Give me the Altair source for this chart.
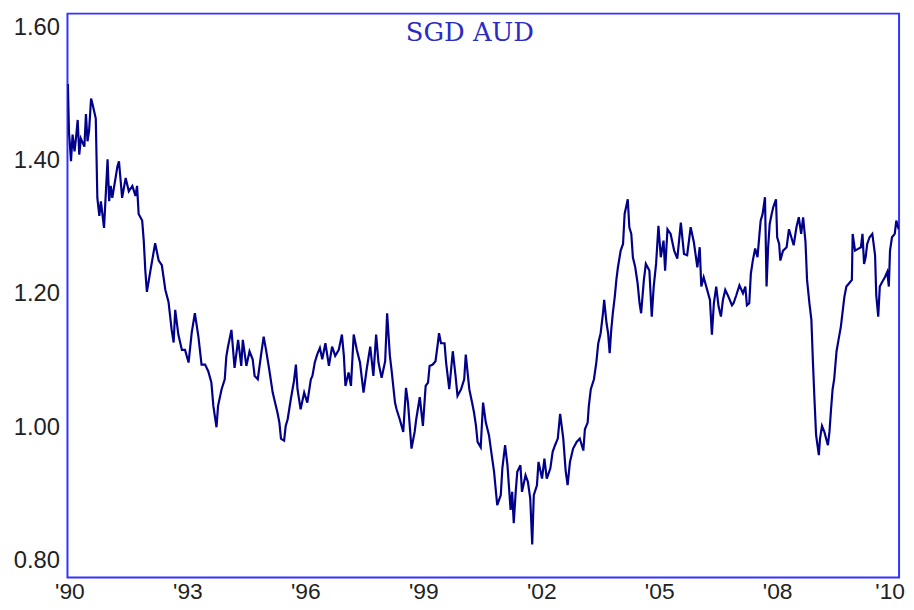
import altair as alt
import pandas as pd

title_text = "SGD AUD"
x_ticks = [1990, 1993, 1996, 1999, 2002, 2005, 2008, 2010.86]
y_ticks = [0.80, 1.00, 1.20, 1.40, 1.60]

years_a = [1989.96, 1989.99, 1990.00, 1990.04, 1990.08, 1990.13, 1990.17, 1990.21, 1990.25, 1990.29,
           1990.38, 1990.42, 1990.46, 1990.50, 1990.55, 1990.59, 1990.67, 1990.71, 1990.76, 1990.80,
           1990.88, 1990.97, 1991.01, 1991.05, 1991.09, 1991.22, 1991.26, 1991.34, 1991.43, 1991.51,
           1991.60, 1991.68, 1991.72, 1991.76, 1991.85, 1991.89, 1991.93, 1991.97, 1992.06, 1992.18,
           1992.27, 1992.35, 1992.44, 1992.52, 1992.60, 1992.65, 1992.69, 1992.77, 1992.86, 1992.94,
           1993.03, 1993.11, 1993.19, 1993.28, 1993.36, 1993.45, 1993.53, 1993.61, 1993.66, 1993.74,
           1993.78, 1993.87, 1993.95, 1993.99]
rates_a = [1.515, 1.440, 1.434, 1.399, 1.439, 1.414, 1.436, 1.461, 1.409, 1.433,
           1.421, 1.470, 1.429, 1.445, 1.493, 1.484, 1.463, 1.344, 1.317, 1.339,
           1.299, 1.402, 1.339, 1.362, 1.344, 1.391, 1.399, 1.344, 1.374, 1.354,
           1.362, 1.347, 1.362, 1.320, 1.310, 1.280, 1.235, 1.203, 1.235, 1.276,
           1.250, 1.243, 1.206, 1.188, 1.146, 1.127, 1.176, 1.139, 1.116, 1.116,
           1.097, 1.142, 1.171, 1.136, 1.094, 1.094, 1.084, 1.067, 1.032, 1.000,
           1.032, 1.057, 1.072, 1.106]

years_b = [1994.03, 1994.12, 1994.20, 1994.29, 1994.37, 1994.41, 1994.50, 1994.58, 1994.66, 1994.71,
           1994.79, 1994.87, 1994.94, 1995.00, 1995.08, 1995.17, 1995.21, 1995.29, 1995.34, 1995.38,
           1995.46, 1995.50, 1995.55, 1995.63, 1995.71, 1995.76, 1995.80, 1995.88, 1995.97, 1996.05,
           1996.14, 1996.18, 1996.24, 1996.30, 1996.37, 1996.43, 1996.51, 1996.60, 1996.68, 1996.76,
           1996.85, 1996.93, 1996.98, 1997.02, 1997.10, 1997.16, 1997.23, 1997.31, 1997.39, 1997.48,
           1997.56, 1997.65, 1997.73, 1997.80, 1997.86, 1997.94, 1998.03, 1998.08, 1998.15, 1998.19,
           1998.28]
rates_b = [1.120, 1.146, 1.089, 1.131, 1.092, 1.131, 1.092, 1.114, 1.102, 1.077,
           1.072, 1.107, 1.136, 1.116, 1.087, 1.052, 1.042, 1.022, 1.007, 0.983,
           0.980, 1.002, 1.012, 1.042, 1.069, 1.094, 1.057, 1.027, 1.052, 1.037,
           1.072, 1.077, 1.097, 1.109, 1.119, 1.102, 1.126, 1.092, 1.121, 1.107,
           1.116, 1.139, 1.107, 1.062, 1.082, 1.062, 1.139, 1.116, 1.097, 1.052,
           1.087, 1.121, 1.077, 1.139, 1.097, 1.074, 1.099, 1.171, 1.107, 1.087,
           1.037]

years_c = [1998.32, 1998.40, 1998.49, 1998.56, 1998.61, 1998.70, 1998.78, 1998.82, 1998.91, 1998.99,
           1999.06, 1999.12, 1999.16, 1999.24, 1999.31, 1999.37, 1999.40, 1999.45, 1999.54, 1999.58,
           1999.66, 1999.75, 1999.82, 1999.87, 1999.96, 2000.04, 2000.08, 2000.17, 2000.24, 2000.29,
           2000.34, 2000.38, 2000.46, 2000.52, 2000.59, 2000.67, 2000.74, 2000.80, 2000.84, 2000.88,
           2000.97, 2001.01, 2001.08, 2001.14, 2001.22, 2001.26, 2001.30, 2001.35, 2001.39, 2001.47,
           2001.51, 2001.60, 2001.66, 2001.72, 2001.77, 2001.81, 2001.89, 2001.93, 2002.02, 2002.08,
           2002.14, 2002.23, 2002.29, 2002.35, 2002.42, 2002.48, 2002.56]
rates_c = [1.027, 1.012, 0.993, 1.059, 1.037, 0.968, 0.993, 1.012, 1.045, 1.002,
           1.062, 1.067, 1.092, 1.094, 1.099, 1.126, 1.141, 1.126, 1.126, 1.097,
           1.057, 1.114, 1.077, 1.047, 1.057, 1.072, 1.109, 1.057, 1.037, 1.022,
           1.002, 0.978, 0.970, 1.037, 1.007, 0.988, 0.958, 0.933, 0.908, 0.883,
           0.898, 0.938, 0.973, 0.943, 0.876, 0.903, 0.856, 0.903, 0.933, 0.943,
           0.903, 0.928, 0.918, 0.893, 0.824, 0.898, 0.913, 0.948, 0.923, 0.953,
           0.923, 0.938, 0.963, 0.973, 0.983, 1.020, 0.983]

years_d = [2002.62, 2002.67, 2002.73, 2002.81, 2002.90, 2002.98, 2003.07, 2003.11, 2003.18, 2003.21,
           2003.26, 2003.34, 2003.40, 2003.45, 2003.51, 2003.57, 2003.60, 2003.66, 2003.70, 2003.74,
           2003.78, 2003.82, 2003.87, 2003.91, 2003.95, 2004.02, 2004.08, 2004.12, 2004.20, 2004.24,
           2004.29, 2004.33, 2004.39, 2004.45, 2004.50, 2004.54, 2004.61, 2004.66, 2004.75, 2004.81,
           2004.86, 2004.92, 2004.98, 2005.04, 2005.11, 2005.15, 2005.21, 2005.29, 2005.38, 2005.46,
           2005.55, 2005.63, 2005.71, 2005.80, 2005.88, 2005.97, 2006.03, 2006.07, 2006.13, 2006.22,
           2006.29, 2006.34, 2006.39, 2006.45, 2006.51, 2006.57, 2006.62, 2006.68, 2006.76, 2006.85]
rates_d = [0.935, 0.913, 0.948, 0.968, 0.978, 0.983, 0.965, 0.997, 1.007, 1.032,
           1.057, 1.072, 1.097, 1.126, 1.141, 1.171, 1.191, 1.156, 1.141, 1.111,
           1.146, 1.171, 1.196, 1.221, 1.240, 1.265, 1.275, 1.320, 1.342, 1.300,
           1.290, 1.255, 1.240, 1.216, 1.186, 1.171, 1.221, 1.245, 1.235, 1.166,
           1.211, 1.245, 1.302, 1.255, 1.280, 1.235, 1.297, 1.290, 1.265, 1.253,
           1.307, 1.260, 1.258, 1.300, 1.278, 1.240, 1.270, 1.211, 1.225, 1.206,
           1.191, 1.139, 1.186, 1.211, 1.181, 1.166, 1.191, 1.206, 1.196, 1.183]

years_e = [2006.89, 2006.96, 2007.04, 2007.13, 2007.19, 2007.23, 2007.29, 2007.33, 2007.38, 2007.44,
           2007.50, 2007.55, 2007.58, 2007.63, 2007.69, 2007.73, 2007.77, 2007.81, 2007.86, 2007.90,
           2007.97, 2008.00, 2008.05, 2008.08, 2008.15, 2008.24, 2008.30, 2008.36, 2008.42, 2008.49,
           2008.55, 2008.61, 2008.66, 2008.72, 2008.76, 2008.82, 2008.87, 2008.91, 2008.95, 2008.99,
           2009.06, 2009.09, 2009.14, 2009.20, 2009.29, 2009.33, 2009.37, 2009.41, 2009.45, 2009.51,
           2009.56, 2009.62, 2009.66, 2009.71, 2009.76, 2009.83, 2009.90, 2009.92, 2009.98, 2010.07,
           2010.13, 2010.17, 2010.21, 2010.25, 2010.29, 2010.35, 2010.42, 2010.49, 2010.52, 2010.57,
           2010.61, 2010.67, 2010.74, 2010.80, 2010.84, 2010.87, 2010.92, 2010.99, 2011.03, 2011.09]
rates_e = [1.186, 1.198, 1.213, 1.201, 1.211, 1.183, 1.186, 1.230, 1.250, 1.268,
           1.255, 1.290, 1.310, 1.320, 1.345, 1.211, 1.270, 1.305, 1.320, 1.330,
           1.342, 1.285, 1.275, 1.250, 1.265, 1.270, 1.297, 1.285, 1.273, 1.300,
           1.315, 1.290, 1.315, 1.278, 1.221, 1.186, 1.161, 1.097, 1.040, 0.988,
           0.958, 0.983, 1.002, 0.993, 0.973, 0.993, 1.027, 1.057, 1.072, 1.114,
           1.131, 1.151, 1.171, 1.196, 1.211, 1.216, 1.221, 1.290, 1.265, 1.268,
           1.270, 1.290, 1.245, 1.255, 1.275, 1.285, 1.290, 1.258, 1.198, 1.166,
           1.211, 1.218, 1.225, 1.233, 1.211, 1.265, 1.285, 1.290, 1.310, 1.297]

years = years_a + years_b + years_c + years_d + years_e
rates = rates_a + rates_b + rates_c + rates_d + rates_e
df = pd.DataFrame({"year": years, "rate": rates})

label_font = "Liberation Sans"

line = alt.Chart(df).mark_line(color="#00008b", strokeWidth=2.2, clip=True).encode(
    x=alt.X("year:Q",
            scale=alt.Scale(domain=[1989.95, 2011.10], nice=False, zero=False),
            axis=alt.Axis(values=x_ticks,
                          labelExpr="datum.value > 2010 ? \"'10\" : \"'\" + substring(toString(floor(datum.value)), 2, 4)",
                          ticks=False, domain=False, grid=False, title=None,
                          labelFont=label_font, labelFontSize=23, labelColor="#222222",
                          labelPadding=3, labelFlush=False, labelOverlap=False)),
    y=alt.Y("rate:Q",
            scale=alt.Scale(domain=[0.7744, 1.6205], nice=False, zero=False),
            axis=alt.Axis(values=y_ticks, format=".2f",
                          ticks=False, domain=False, grid=False, title=None,
                          labelFont=label_font, labelFontSize=24, labelColor="#222222",
                          labelPadding=8, labelFlush=False, labelOverlap=False)),
)

title = alt.Chart(pd.DataFrame({"t": [title_text]})).mark_text(
    font="DejaVu Serif", fontSize=26, color="#2b2bc4", align="center", baseline="middle"
).encode(x=alt.value(406), y=alt.value(20), text="t:N")

chart = alt.layer(line, title).properties(
    width=839, height=569,
    padding={"left": 60, "top": 3, "right": 7, "bottom": 28},
    autosize=alt.AutoSizeParams(type="none"),
).configure_view(stroke="#3333ff", strokeWidth=2)

chart.save("out.html", embed_options={"renderer": "svg", "actions": False})
